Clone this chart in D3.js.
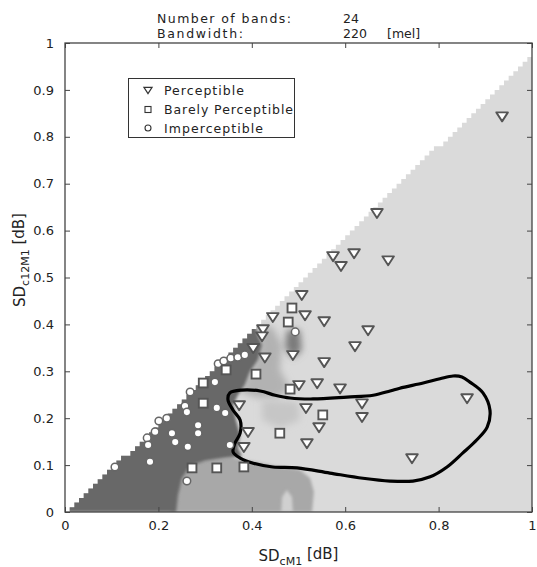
<!DOCTYPE html>
<html><head><meta charset="utf-8">
<script src="https://cdn.jsdelivr.net/npm/d3@7"></script>
<style>
html,body{margin:0;padding:0;background:#fff;}
text{font-family:"DejaVu Sans",Verdana,sans-serif;fill:#222;}
</style></head>
<body><svg id="c" width="537" height="567"></svg>
<script>
// ---------- data ----------
const xTicks = [0, 0.2, 0.4, 0.6, 0.8, 1];
const yTicks = [0, 0.1, 0.2, 0.3, 0.4, 0.5, 0.6, 0.7, 0.8, 0.9, 1];

const perceptible = [
 [0.936,0.844],[0.668,0.638],[0.574,0.546],[0.619,0.552],[0.591,0.525],[0.692,0.537],
 [0.507,0.463],[0.514,0.420],[0.555,0.407],[0.649,0.388],[0.445,0.416],[0.424,0.390],
 [0.422,0.375],[0.403,0.350],[0.428,0.330],[0.488,0.335],[0.621,0.354],[0.555,0.320],
 [0.501,0.271],[0.540,0.275],[0.589,0.264],[0.373,0.228],[0.516,0.222],[0.636,0.232],
 [0.636,0.203],[0.544,0.181],[0.392,0.171],[0.518,0.147],[0.383,0.139],[0.861,0.243],
 [0.743,0.115]];
const barelyPerceptible = [
 [0.486,0.435],[0.478,0.405],[0.409,0.294],[0.482,0.262],[0.345,0.303],[0.296,0.275],
 [0.296,0.232],[0.552,0.207],[0.460,0.168],[0.383,0.096],[0.272,0.094],[0.325,0.094]];
const imperceptible = [
 [0.493,0.384],[0.328,0.316],[0.340,0.322],[0.355,0.328],[0.370,0.330],[0.385,0.335],
 [0.321,0.277],[0.268,0.256],[0.257,0.226],[0.261,0.213],[0.325,0.222],[0.343,0.211],
 [0.218,0.200],[0.201,0.194],[0.193,0.171],[0.176,0.158],[0.178,0.143],[0.285,0.185],
 [0.285,0.168],[0.229,0.168],[0.236,0.149],[0.263,0.139],[0.182,0.107],[0.107,0.096],
 [0.353,0.143],[0.261,0.066]];

// decision-boundary contour (closed)
const contour = [
 [0.353,0.254],[0.379,0.260],[0.418,0.258],[0.450,0.249],[0.482,0.243],[0.531,0.241],
 [0.604,0.245],[0.660,0.249],[0.696,0.258],[0.717,0.264],[0.767,0.275],[0.803,0.284],
 [0.831,0.290],[0.850,0.288],[0.867,0.277],[0.895,0.254],[0.910,0.217],[0.904,0.181],
 [0.882,0.154],[0.852,0.126],[0.818,0.096],[0.782,0.075],[0.745,0.066],[0.696,0.066],
 [0.638,0.072],[0.567,0.083],[0.497,0.094],[0.445,0.096],[0.403,0.104],[0.375,0.115],
 [0.360,0.128],[0.364,0.147],[0.375,0.168],[0.375,0.196],[0.360,0.217],[0.349,0.239]];

// classification map regions
const regionDark = [
 [0,0],[0,0.405],[0.407,0.405],[0.413,0.377],[0.422,0.356],[0.413,0.324],[0.396,0.299],
 [0.385,0.271],[0.370,0.249],[0.360,0.228],[0.366,0.196],[0.375,0.164],[0.370,0.136],
 [0.379,0.119],[0.343,0.115],[0.300,0.109],[0.268,0.098],[0.251,0.072],[0.242,0.036],[0.238,0]];
const regionMediumLow = [
 [0.225,0],[0.238,0.047],[0.257,0.090],[0.289,0.109],[0.353,0.117],[0.396,0.109],
 [0.450,0.098],[0.503,0.090],[0.525,0.072],[0.533,0.043],[0.529,0]];
const regionNotch = [[0.463,0],[0.465,0.032],[0.475,0.047],[0.486,0.032],[0.488,0]];
const regionMediumHigh = [
 [0.409,0.392],[0.443,0.397],[0.465,0.356],[0.460,0.303],[0.482,0.264],[0.456,0.243],
 [0.413,0.243],[0.375,0.256],[0.392,0.292],[0.409,0.324],[0.418,0.356]];
const regionSoft = [[0.422,0.239],[0.499,0.235],[0.503,0.196],[0.460,0.179],[0.422,0.196]];
const regionBlob = [[0.475,0.388],[0.503,0.388],[0.507,0.345],[0.488,0.328],[0.471,0.350]];

// staircase edge of the map (grid step, slope and offset of the diagonal)
const maskStep = 0.01, maskSlope = 0.985, maskOffset = 0.008;

const legendItems = ["Perceptible", "Barely Perceptible", "Imperceptible"];

// ---------- drawing ----------
const svg = d3.select("#c");
const x = d3.scaleLinear().domain([0,1]).range([65,532]);
const y = d3.scaleLinear().domain([0,1]).range([512,43]);
const defs = svg.append("defs");
defs.append("filter").attr("id","blur").attr("x","-20%").attr("y","-20%").attr("width","140%").attr("height","140%")
  .append("feGaussianBlur").attr("stdDeviation",1.6);
defs.append("filter").attr("id","blur2").attr("x","-50%").attr("y","-50%").attr("width","200%").attr("height","200%")
  .append("feGaussianBlur").attr("stdDeviation",3.5);

// staircase mask
const N = Math.round(1/maskStep);
let p = d3.path();
p.moveTo(x(0), y(0));
for (let i=0;i<N;i++){
  const x0=i*maskStep, x1=(i+1)*maskStep, xc=(x0+x1)/2;
  const h = Math.max(0, Math.round((maskSlope*xc-maskOffset)/maskStep)*maskStep);
  p.lineTo(x(x0), y(h)); p.lineTo(x(x1), y(h));
}
p.lineTo(x(1), y(0)); p.closePath();
defs.append("clipPath").attr("id","stair").append("path").attr("d", p.toString());

svg.append("rect").attr("width",537).attr("height",567).attr("fill","#fff");

const map = svg.append("g").attr("clip-path","url(#stair)");
map.append("rect").attr("x",x(0)).attr("y",y(1)).attr("width",x(1)-x(0)).attr("height",y(0)-y(1)).attr("fill","#dadada");
const poly = d3.line().x(d=>x(d[0])).y(d=>y(d[1])).curve(d3.curveLinearClosed);
map.append("path").attr("d",poly(regionMediumLow)).attr("fill","#a8a8a8").attr("filter","url(#blur)");
map.append("path").attr("d",poly(regionNotch)).attr("fill","#d0d0d0").attr("filter","url(#blur)");
map.append("path").attr("d",poly(regionMediumHigh)).attr("fill","#b2b2b2").attr("filter","url(#blur2)");
map.append("path").attr("d",poly(regionSoft)).attr("fill","#c6c6c6").attr("filter","url(#blur2)");
map.append("path").attr("d",poly(regionBlob)).attr("fill","#7a7a7a").attr("filter","url(#blur2)");
map.append("path").attr("d",poly(regionDark)).attr("fill","#676767").attr("filter","url(#blur)");

// axes (ticks inside)
const fmt = d => String(d);
svg.append("g").attr("transform",`translate(0,${y(0)})`)
  .call(d3.axisBottom(x).tickValues(xTicks).tickFormat(fmt).tickSizeInner(-5).tickSizeOuter(0).tickPadding(9))
  .call(g=>{g.select(".domain").remove(); g.selectAll("text").attr("font-size",13).attr("font-family","DejaVu Sans").attr("fill","#333");});
svg.append("g").attr("transform",`translate(0,${y(1)})`)
  .call(d3.axisTop(x).tickValues(xTicks).tickFormat("").tickSizeInner(-5).tickSizeOuter(0))
  .call(g=>g.select(".domain").remove());
svg.append("g").attr("transform",`translate(${x(0)},0)`)
  .call(d3.axisLeft(y).tickValues(yTicks).tickFormat(fmt).tickSizeInner(-5).tickSizeOuter(0).tickPadding(11))
  .call(g=>{g.select(".domain").remove(); g.selectAll("text").attr("font-size",13).attr("font-family","DejaVu Sans").attr("fill","#333");});
svg.append("g").attr("transform",`translate(${x(1)},0)`)
  .call(d3.axisRight(y).tickValues(yTicks).tickFormat("").tickSizeInner(-5).tickSizeOuter(0))
  .call(g=>g.select(".domain").remove());
svg.selectAll(".tick line").attr("stroke","#444");
svg.append("rect").attr("x",x(0)).attr("y",y(1)).attr("width",x(1)-x(0)).attr("height",y(0)-y(1))
  .attr("fill","none").attr("stroke","#444").attr("stroke-width",1.3);

// contour
svg.append("path").attr("d", d3.line().x(d=>x(d[0])).y(d=>y(d[1])).curve(d3.curveCatmullRomClosed)(contour))
  .attr("fill","none").attr("stroke","#000").attr("stroke-width",3.2).attr("stroke-linejoin","round");

// markers
const triPath = s => `M${-5.8*s},${-3.8*s}L${5.8*s},${-3.8*s}L0,${5.2*s}Z`;
svg.append("g").selectAll("circle").data(imperceptible).join("circle")
  .attr("cx",d=>x(d[0])).attr("cy",d=>y(d[1])).attr("r",3.8)
  .attr("fill","#fff").attr("stroke","#666").attr("stroke-width",1.5);
svg.append("g").selectAll("rect").data(barelyPerceptible).join("rect")
  .attr("x",d=>x(d[0])-4.4).attr("y",d=>y(d[1])-4.4).attr("width",8.8).attr("height",8.8)
  .attr("fill","#fff").attr("stroke","#555").attr("stroke-width",1.9);
svg.append("g").selectAll("path").data(perceptible).join("path")
  .attr("transform",d=>`translate(${x(d[0])},${y(d[1])})`).attr("d",triPath(1))
  .attr("fill","#fff").attr("stroke","#555").attr("stroke-width",1.9).attr("stroke-linejoin","round");

// legend
const lg = svg.append("g");
lg.append("rect").attr("x",128.5).attr("y",78.5).attr("width",166).attr("height",59)
  .attr("fill","#fff").attr("stroke","#333").attr("stroke-width",1);
const rowY = [90, 109.5, 128];
const lengths = [80, 129, 99];
legendItems.forEach((t,i)=>{
  const cy = rowY[i];
  if (i===0) lg.append("path").attr("transform",`translate(148,${cy})`).attr("d",triPath(0.7)).attr("fill","#fff").attr("stroke","#333").attr("stroke-width",1.2);
  if (i===1) lg.append("rect").attr("x",145).attr("y",cy-3).attr("width",6).attr("height",6).attr("fill","#fff").attr("stroke","#333").attr("stroke-width",1.1);
  if (i===2) lg.append("circle").attr("cx",148).attr("cy",cy).attr("r",3).attr("fill","#fff").attr("stroke","#333").attr("stroke-width",1.1);
  lg.append("text").attr("x",164).attr("y",cy+4.5).attr("font-size",12.5)
    .attr("textLength",lengths[i]).attr("lengthAdjust","spacing").text(t);
});

// header
const hd = svg.append("g");
hd.append("text").attr("x",157).attr("y",22.5).attr("font-size",12.5).attr("textLength",134).attr("lengthAdjust","spacing").text("Number of bands:");
hd.append("text").attr("x",343).attr("y",22.5).attr("font-size",12.5).text("24");
hd.append("text").attr("x",157).attr("y",38).attr("font-size",12.5).attr("textLength",86).attr("lengthAdjust","spacing").text("Bandwidth:");
hd.append("text").attr("x",343).attr("y",38).attr("font-size",12.5).text("220");
hd.append("text").attr("x",387).attr("y",38).attr("font-size",12.5).text("[mel]");

// axis labels
const xl = svg.append("text").attr("x",x(0.5)).attr("y",561).attr("text-anchor","middle").attr("font-size",15);
xl.append("tspan").text("SD");
xl.append("tspan").attr("font-size",11).attr("dy",4).text("cM1");
xl.append("tspan").attr("dy",-6).text(" [dB]");

const yl = svg.append("text").attr("transform","translate(25,260) rotate(-90)").attr("text-anchor","middle").attr("font-size",15);
yl.append("tspan").text("SD");
yl.append("tspan").attr("font-size",11).attr("dy",4).text("c12M1");
yl.append("tspan").attr("dy",-5).text(" [dB]");
</script></body></html>
